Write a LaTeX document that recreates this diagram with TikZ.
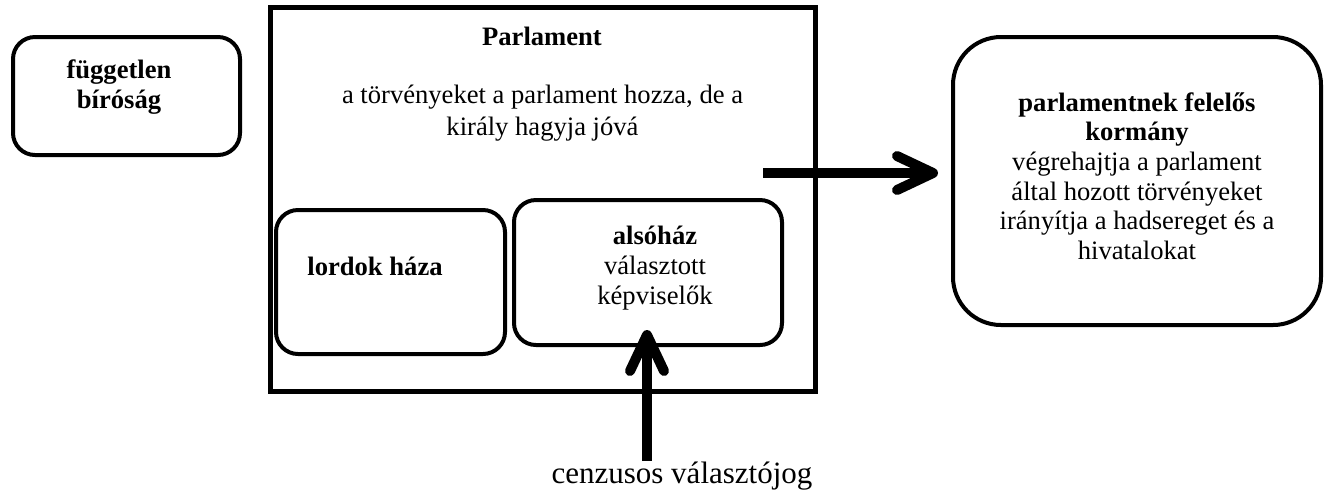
\documentclass[tikz,border=0pt]{standalone}
\usepackage{fontspec}
\setmainfont{Liberation Serif}
\usetikzlibrary{arrows.meta}
\usetikzlibrary{positioning}
\newcommand{\bodyfont}{\fontsize{13.3}{15}\selectfont}
\tikzstyle{roundbox}=[draw, line width=2pt, rounded corners=11pt, inner sep=0]
\tikzstyle{boxtext}=[align=center, inner sep=0, font=\bodyfont]
\tikzstyle{bigarrow}=[line width=5pt, -{Straight Barb[length=18pt, width=17pt, round]}]
\newcommand{\boxnode}[4]{\node[roundbox, minimum width=#3, minimum height=#4] (#1) at (#2) {};}

\begin{document}
\begin{tikzpicture}[x=0.5pt, y=-0.5pt]
\useasboundingbox (0,0) rectangle (1328,495);

\boxnode{court}{126.5,96}{113.5pt}{59pt}
\node[draw, line width=2.5pt, minimum width=272.5pt, minimum height=192pt, inner sep=0] (parliament) at (542.5,199.75) {};
\boxnode{lords}{390.5,282}{114.5pt}{72pt}
\boxnode{commons}{648,272.5}{134pt}{72.5pt}
\node[roundbox, rounded corners=24pt, minimum width=184pt, minimum height=144pt] (government) at (1137,181) {};

\node[boxtext] (court-text) at (119,87) {\textbf{független}\\\textbf{bíróság}};
\node[boxtext] (parl-title) at (542,36) {\textbf{Parlament}};
\node[boxtext, font=\fontsize{13.3}{16}\selectfont] (parl-text) at (542.5,113) {a törvényeket a parlament hozza, de a\\király hagyja jóvá};
\node[boxtext] (lords-text) at (375,266) {\textbf{lordok háza}};
\node[boxtext] (commons-text) at (655,268) {\textbf{alsóház}\\választott\\képviselők};
\node[boxtext, font=\fontsize{13.3}{14.8}\selectfont] (gov-text) at (1137,176) {\textbf{parlamentnek felelős}\\\textbf{kormány}\\végrehajtja a parlament\\által hozott törvényeket\\irányítja a hadsereget és a\\hivatalokat};
\node[inner sep=0, anchor=base, font=\fontsize{15.5}{18}\selectfont] (vote) at (682,483) {cenzusos választójog};

\coordinate (push-start) at (763,173);
\coordinate (push-end) at (938,173);
\coordinate (commons-tip) at (647,330);
\draw[bigarrow] (push-start) -- (push-end);
\draw[bigarrow] (vote.north -| commons-tip) -- (commons-tip);
\end{tikzpicture}
\end{document}
